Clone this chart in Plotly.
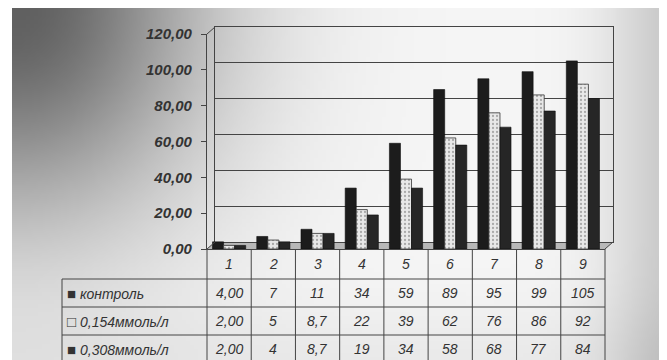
import base64, struct, zlib
import numpy as np
import plotly.graph_objects as go

# ---------------- data ----------------
categories = [1, 2, 3, 4, 5, 6, 7, 8, 9]
series_names = ["контроль", "0,154ммоль/л", "0,308ммоль/л"]
control = [4.00, 7, 11, 34, 59, 89, 95, 99, 105]
dose_154 = [2.00, 5, 8.7, 22, 39, 62, 76, 86, 92]
dose_308 = [2.00, 4, 8.7, 19, 34, 58, 68, 77, 84]
legend_marks = ["■", "□", "■"]
y_ticks = [0, 20, 40, 60, 80, 100, 120]

W, H = 667, 360
OFF = 8  # page body margin

def fmt(v, first):
    if first:
        return ("%.2f" % v).replace(".", ",")
    return ("%g" % v).replace(".", ",")

# ---------------- geometry (screen pixels) ----------------
FX0, FX1 = 207, 605        # front category axis
FY0, FY1 = 249, 34         # front value axis: 0 -> 249px, 120 -> 34px
DX, DY = 8, -7             # 3-D depth offset of back wall
Y_MAX = 120

def px(x):
    return (x - OFF) / W

def py(y):
    return 1 - (y - OFF) / H

# ---------------- background gradient image ----------------
gw, gh = 167, 90
xs = np.linspace(12, W, gw)[None, :]
ys = np.linspace(6, H, gh)[:, None]
b = 246 - 150 * np.exp(-((xs - 12) / 190) ** 2 - (ys / 215) ** 2) \
    - 45 * np.exp(-((xs - W) / 70) ** 2) - 12 * np.exp(-((ys - H) / 60) ** 2)
b = np.clip(b, 0, 255).astype(np.uint8)

def png_gray(arr):
    h, w = arr.shape
    raw = b"".join(b"\x00" + arr[i].tobytes() for i in range(h))
    def chunk(t, d):
        c = struct.pack(">I", len(d)) + t + d
        return c + struct.pack(">I", zlib.crc32(t + d) & 0xffffffff)
    return (b"\x89PNG\r\n\x1a\n" + chunk(b"IHDR", struct.pack(">IIBBBBB", w, h, 8, 0, 0, 0, 0))
            + chunk(b"IDAT", zlib.compress(raw, 9)) + chunk(b"IEND", b""))

bg_uri = "data:image/png;base64," + base64.b64encode(png_gray(b)).decode()

# ---------------- figure ----------------
fig = go.Figure()

fig.add_trace(go.Scatter(x=[1], y=[0], xaxis="x", yaxis="y", mode="markers",
                         marker=dict(opacity=0), showlegend=False, hoverinfo="skip"))

fig.add_trace(go.Bar(x=categories, y=control, name=series_names[0], xaxis="x2", yaxis="y2",
                     marker=dict(color="#1c1c1c", line=dict(color="#0d0d0d", width=0.6))))
fig.add_trace(go.Bar(x=categories, y=dose_154, name=series_names[1], xaxis="x2", yaxis="y2",
                     marker=dict(color="#e4e4e4", line=dict(color="#333333", width=0.8),
                                 pattern=dict(shape=".", fgcolor="#6a6a6a", bgcolor="#e8e8e8",
                                              size=4, solidity=0.25))))
fig.add_trace(go.Bar(x=categories, y=dose_308, name=series_names[2], xaxis="x2", yaxis="y2",
                     marker=dict(color="#262626", line=dict(color="#0d0d0d", width=0.6))))

line_col = "#444444"
text_col = "#333333"
font_base = "Liberation Sans, Arial, sans-serif"

fig.update_layout(
    width=W, height=H,
    margin=dict(l=0, r=0, t=0, b=0, autoexpand=False),
    paper_bgcolor="white", plot_bgcolor="rgba(0,0,0,0)",
    separators=", ",
    showlegend=False,
    barmode="group", bargap=0.25, bargroupgap=0.0,
    font=dict(family=font_base, color=text_col),
    xaxis=dict(domain=[px(FX0 + DX), px(FX1 + DX)], range=[0.5, 9.5], anchor="y",
               automargin=False,
               showgrid=False, zeroline=False, showticklabels=False, ticks="",
               showline=True, mirror=True, linecolor=line_col, linewidth=1),
    yaxis=dict(domain=[py(FY0 + DY), py(FY1 + DY)], range=[0, Y_MAX], anchor="x",
               automargin=False,
               tickvals=y_ticks, showgrid=True, gridcolor=line_col, gridwidth=1.3,
               zeroline=False, showticklabels=False, ticks="",
               showline=True, mirror=True, linecolor=line_col, linewidth=1),
    xaxis2=dict(domain=[px(FX0), px(FX1)], range=[0.5, 9.5], anchor="y2",
                automargin=False,
                showgrid=False, zeroline=False, showticklabels=False, ticks="",
                showline=True, linecolor=line_col, linewidth=1.2),
    yaxis2=dict(domain=[py(FY0), py(FY1)], range=[0, Y_MAX], anchor="x2",
                automargin=False,
                tickvals=y_ticks, tickformat=".2f", showgrid=False, zeroline=False,
                ticks="outside", ticklen=5, tickcolor=line_col, ticklabelstandoff=6,
                showline=True, linecolor=line_col, linewidth=1.2,
                tickfont=dict(family=font_base, size=15, color=text_col,
                              weight="bold", style="italic")),
)

fig.add_layout_image(dict(source=bg_uri, xref="paper", yref="paper",
                          x=px(12), y=py(6), sizex=(W - 12) / W + 0.02, sizey=(H - 6) / H + 0.03,
                          xanchor="left", yanchor="top", sizing="stretch", layer="below"))

shapes = []
def seg(x0, y0, x1, y1, w=1):
    shapes.append(dict(type="line", xref="paper", yref="paper",
                       x0=px(x0), y0=py(y0), x1=px(x1), y1=py(y1),
                       line=dict(color=line_col, width=w)))

seg(FX0, FY1, FX0 + DX, FY1 + DY)
seg(FX0, FY0, FX0 + DX, FY0 + DY)
seg(FX1, FY0, FX1 + DX, FY0 + DY)
shapes.append(dict(type="path", xref="paper", yref="paper", layer="below",
                   path="M %f,%f L %f,%f L %f,%f L %f,%f Z" % (
                       px(FX0), py(FY0), px(FX1), py(FY0),
                       px(FX1 + DX), py(FY0 + DY), px(FX0 + DX), py(FY0 + DY)),
                   fillcolor="#b8b8b8", line=dict(width=0)))

n = len(categories)
col_w = (FX1 - FX0) / n
col_edges = [FX0 + k * col_w for k in range(n + 1)]
ROW_TOP = 279
ROW_H = 28
TABLE_L = 62
TABLE_B = 370
for xe in col_edges:
    seg(xe, FY0, xe, TABLE_B)
seg(TABLE_L, ROW_TOP, TABLE_L, TABLE_B)
for r in range(3):
    seg(TABLE_L, ROW_TOP + r * ROW_H, FX1, ROW_TOP + r * ROW_H)
fig.update_layout(shapes=shapes)

anns = []
tfont = dict(family=font_base, size=14, color=text_col, style="italic")
for i, c in enumerate(categories):
    cx = (col_edges[i] + col_edges[i + 1]) / 2
    anns.append(dict(x=px(cx), y=py((FY0 + ROW_TOP) / 2), xref="paper", yref="paper",
                     text=str(c), showarrow=False, font=tfont, xanchor="center", yanchor="middle"))
for r, (name, vals, mark) in enumerate(zip(series_names, [control, dose_154, dose_308], legend_marks)):
    yc = ROW_TOP + r * ROW_H + ROW_H / 2
    anns.append(dict(x=px(TABLE_L + 3), y=py(yc), xref="paper", yref="paper",
                     text="<span style='font-style:normal;font-size:15px'>%s</span> %s" % (mark, name),
                     showarrow=False, font=tfont, xanchor="left", yanchor="middle"))
    for i, v in enumerate(vals):
        cx = (col_edges[i] + col_edges[i + 1]) / 2
        anns.append(dict(x=px(cx), y=py(yc), xref="paper", yref="paper",
                         text=fmt(v, i == 0), showarrow=False, font=tfont,
                         xanchor="center", yanchor="middle"))
fig.update_layout(annotations=anns)

fig.write_html("out.html")
